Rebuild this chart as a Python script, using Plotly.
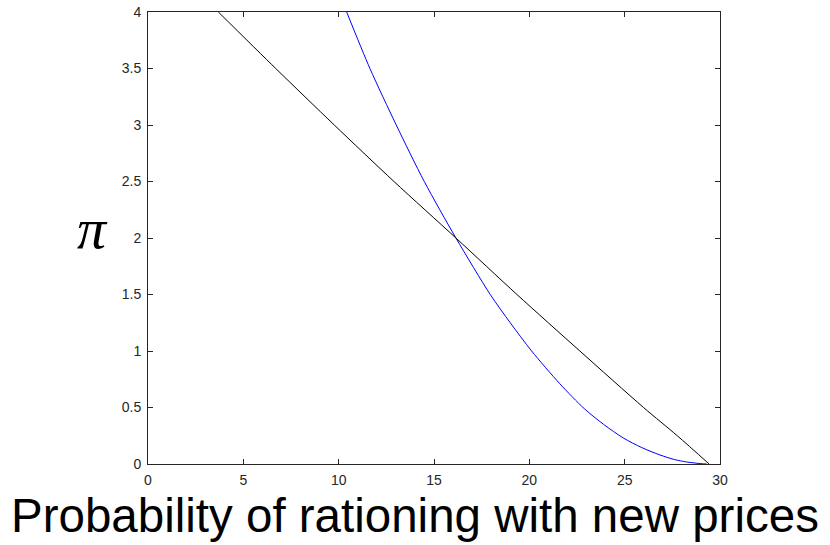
import plotly.graph_objects as go

# Black curve: profit pi against probability of rationing
black_x = [3.69, 6.70, 9.77, 12.90, 16.15, 19.35, 22.65, 25.99, 27.76, 29.43]
black_y = [4.0, 3.5, 3.0, 2.5, 2.0, 1.5, 1.0, 0.5, 0.25, 0.0]

# Blue curve
blue_x = [10.42, 11.64, 13.02, 14.49, 16.15, 17.95, 19.0, 20.12, 21.6, 22.88, 23.9, 24.93, 25.9, 26.85, 27.6, 28.25, 29.0, 29.3]
blue_y = [4.0, 3.5, 3.0, 2.5, 2.0, 1.5, 1.25, 1.0, 0.71, 0.49, 0.35, 0.23, 0.145, 0.08, 0.04, 0.018, 0.003, 0.0]

x_ticks = [0, 5, 10, 15, 20, 25, 30]
y_ticks = [0, 0.5, 1, 1.5, 2, 2.5, 3, 3.5, 4]

fig = go.Figure()
fig.add_trace(go.Scatter(x=blue_x, y=blue_y, mode="lines",
                         line=dict(color="#0000ff", width=1, shape="spline", smoothing=0.8),
                         showlegend=False))
fig.add_trace(go.Scatter(x=black_x, y=black_y, mode="lines",
                         line=dict(color="#000000", width=1, shape="spline", smoothing=0.8),
                         showlegend=False))

axis_common = dict(
    showgrid=False, zeroline=False, showline=True, mirror="allticks",
    linecolor="#262626", linewidth=1, ticks="inside", ticklen=5,
    tickcolor="#262626", tickwidth=1, automargin=False,
    tickfont=dict(family="Liberation Sans, Arial, sans-serif", size=14, color="#262626"),
)

fig.update_xaxes(range=[0, 30], tickvals=x_ticks, ticktext=[str(v) for v in x_ticks],
                 ticklabelstandoff=3, **axis_common)
fig.update_yaxes(range=[0, 4], tickvals=y_ticks, ticktext=[f"{v:g}" for v in y_ticks],
                 ticklabelstandoff=3, **axis_common)

fig.update_layout(
    width=830, height=545,
    margin=dict(l=148, r=110, t=12, b=81, autoexpand=False),
    paper_bgcolor="white", plot_bgcolor="white",
    annotations=[
        dict(text="Probability of rationing with new prices", xref="paper", yref="paper",
             x=0.466, y=-0.113, xanchor="center", yanchor="middle", showarrow=False,
             font=dict(family="Liberation Sans, Arial, sans-serif", size=47.5, color="#000000")),
        dict(text="<i>π</i>", xref="paper", yref="paper",
             x=-0.066, y=0.52, xanchor="right", yanchor="middle", showarrow=False,
             font=dict(family="Liberation Serif, Times New Roman, serif", size=58, color="#000000")),
    ],
)

fig.write_html("out.html")
